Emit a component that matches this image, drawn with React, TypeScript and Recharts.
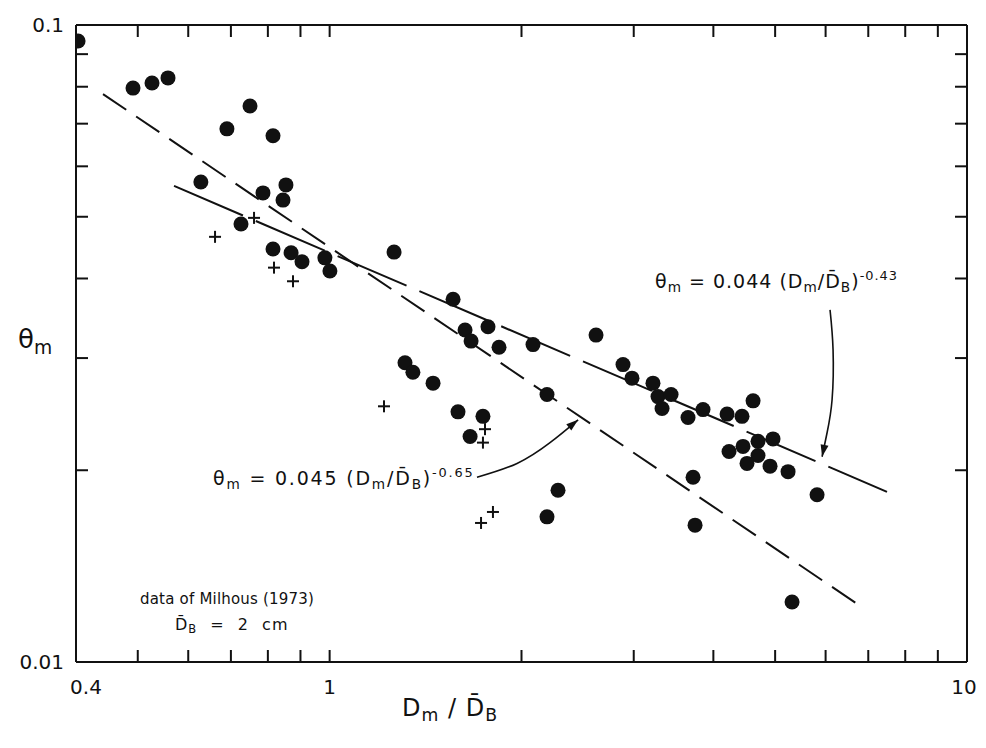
import React from 'react';
import { ScatterChart, Scatter, XAxis, YAxis } from 'recharts';

// filled circles (Dm/DB, theta_m)
const circleX = [
  0.403, 0.4915, 0.5264, 0.5577, 0.69, 0.75, 0.815, 0.628, 0.786, 0.854,
  0.845, 0.726, 0.815, 0.87, 0.905, 0.983, 1.001, 1.262, 1.562, 1.631,
  1.667, 1.772, 1.844, 2.085, 1.313, 1.351, 1.453, 2.193, 1.59, 1.74,
  1.661, 2.282, 2.193, 2.618, 2.886, 2.981, 3.216, 3.275, 3.433, 3.323,
  3.65, 3.853, 4.203, 4.436, 4.617, 4.233, 4.452, 4.7, 4.962, 4.7,
  4.517, 4.909, 5.239, 5.818, 3.717, 3.744, 5.315,
];
const circleY = [
  0.0944, 0.0796, 0.0811, 0.0826, 0.0687, 0.0746, 0.067, 0.0567, 0.0545, 0.0561,
  0.0531, 0.0487, 0.0445, 0.0439, 0.0425, 0.0431, 0.0411, 0.044, 0.0371, 0.0332,
  0.0319, 0.0336, 0.0312, 0.0315, 0.0295, 0.0285, 0.0274, 0.0263, 0.0247, 0.0243,
  0.0226, 0.0186, 0.0169, 0.0326, 0.0293, 0.0279, 0.0274, 0.0261, 0.0263, 0.025,
  0.0242, 0.0249, 0.0245, 0.0243, 0.0257, 0.0214, 0.0218, 0.0222, 0.0224, 0.0211,
  0.0205, 0.0203, 0.0199, 0.0183, 0.0195, 0.0164, 0.01242,
];

// plus markers
const plusX = [0.661, 0.761, 0.818, 0.876, 1.217, 1.753, 1.74, 1.728, 1.804];
const plusY = [0.0465, 0.0498, 0.0416, 0.0396, 0.0252, 0.0232, 0.0221, 0.01653, 0.0172];

// fitted lines, end points
const steepX = [0.441, 6.87];
const steepY = [0.0779, 0.01216];
const flatX = [0.57, 7.49];
const flatY = [0.0559, 0.0185];

// annotation arrows
const arrowLeftX = [1.703, 1.968, 2.217, 2.454];
const arrowLeftY = [0.0195, 0.0205, 0.0221, 0.024];
const arrowRightX = [6.097, 6.164, 6.142, 6.032, 5.924];
const arrowRightY = [0.0357, 0.0309, 0.0258, 0.0229, 0.021];

const xTicks = [0.4, 0.5, 0.6, 0.7, 0.8, 0.9, 1, 2, 3, 4, 5, 6, 7, 8, 9, 10];
const yTicks = [0.01, 0.02, 0.03, 0.04, 0.05, 0.06, 0.07, 0.08, 0.09, 0.1];
const xLabeled = [0.4, 1, 10];
const yLabeled = [0.01, 0.1];

const zip = (xs: number[], ys: number[]) => xs.map((x, i) => ({ x, y: ys[i] }));

const circles = zip(circleX, circleY);
const pluses = zip(plusX, plusY);
const steepLine = zip(steepX, steepY);
const flatLine = zip(flatX, flatY);
const arrowLeft = zip(arrowLeftX, arrowLeftY);
const arrowRight = zip(arrowRightX, arrowRightY);

const FONT = '"DejaVu Sans", sans-serif';
const INK = '#111';

const DotShape = (p: any) => <circle cx={p.cx} cy={p.cy} r={7.5} fill={INK} />;

const PlusShape = (p: any) => (
  <g stroke={INK} strokeWidth={2}>
    <line x1={p.cx - 6} y1={p.cy} x2={p.cx + 6} y2={p.cy} />
    <line x1={p.cx} y1={p.cy - 6} x2={p.cx} y2={p.cy + 6} />
  </g>
);

const NoShape = () => <g />;

const arrowHead = (angle: number) => (p: any) => (
  <polygon
    points={`${p.cx},${p.cy} ${p.cx - 12},${p.cy - 4} ${p.cx - 12},${p.cy + 4}`}
    fill={INK}
    transform={`rotate(${angle} ${p.cx} ${p.cy})`}
  />
);

const BottomTick = (p: any) => {
  const v = p.payload.value;
  const show = xLabeled.includes(v);
  const dx = v === 0.4 ? 10 : v === 10 ? -3 : 0;
  return (
    <g>
      <line x1={p.x} y1={p.y} x2={p.x} y2={p.y - 12} stroke={INK} strokeWidth={2} />
      {show && (
        <text x={p.x + dx} y={p.y + 32} textAnchor="middle" fontSize={20} fontFamily={FONT} fill={INK}>
          {String(v)}
        </text>
      )}
    </g>
  );
};

const TopTick = (p: any) => (
  <line x1={p.x} y1={p.y} x2={p.x} y2={p.y + 12} stroke={INK} strokeWidth={2} />
);

const LeftTick = (p: any) => {
  const v = p.payload.value;
  const show = yLabeled.includes(v);
  return (
    <g>
      <line x1={p.x} y1={p.y} x2={p.x + 12} y2={p.y} stroke={INK} strokeWidth={2} />
      {show && (
        <text x={p.x - 12} y={p.y + 7} textAnchor="end" fontSize={20} fontFamily={FONT} fill={INK}>
          {String(v)}
        </text>
      )}
    </g>
  );
};

const RightTick = (p: any) => (
  <line x1={p.x} y1={p.y} x2={p.x - 12} y2={p.y} stroke={INK} strokeWidth={2} />
);

const sub = { fontSize: '0.72em', verticalAlign: '-0.3em' } as const;
const sup = { fontSize: '0.68em', verticalAlign: '0.6em' } as const;

const Equation = ({ coef, exp }: { coef: string; exp: string }) => (
  <span>
    θ<span style={sub}>m</span> = {coef} (D<span style={sub}>m</span>/D&#772;<span style={sub}>B</span>)
    <span style={sup}>{exp}</span>
  </span>
);

const abs = (left: number, top: number, extra: React.CSSProperties = {}): React.CSSProperties => ({
  position: 'absolute',
  left,
  top,
  fontFamily: FONT,
  color: INK,
  whiteSpace: 'pre',
  lineHeight: 1,
  ...extra,
});

const App = () => {
  const axisLine = { stroke: INK, strokeWidth: 2 };
  return (
    <div style={{ position: 'relative', width: 978, height: 732, background: '#fff' }}>
      <ScatterChart width={978} height={732} margin={{ top: 16, right: 18, bottom: 48, left: 8 }}>
        <XAxis
          xAxisId="b"
          dataKey="x"
          type="number"
          scale="log"
          domain={[0.4, 10]}
          ticks={xTicks}
          interval={0}
          allowDataOverflow
          height={30}
          tickSize={0}
          tickMargin={0}
          axisLine={axisLine}
          tick={<BottomTick />}
        />
        <XAxis
          xAxisId="t"
          orientation="top"
          dataKey="x"
          type="number"
          scale="log"
          domain={[0.4, 10]}
          ticks={xTicks}
          interval={0}
          allowDataOverflow
          height={1}
          tickSize={0}
          tickMargin={0}
          axisLine={axisLine}
          tick={<TopTick />}
        />
        <YAxis
          yAxisId="l"
          dataKey="y"
          type="number"
          scale="log"
          domain={[0.01, 0.1]}
          ticks={yTicks}
          interval={0}
          allowDataOverflow
          width={60}
          tickSize={0}
          tickMargin={0}
          axisLine={axisLine}
          tick={<LeftTick />}
        />
        <YAxis
          yAxisId="r"
          orientation="right"
          dataKey="y"
          type="number"
          scale="log"
          domain={[0.01, 0.1]}
          ticks={yTicks}
          interval={0}
          allowDataOverflow
          width={1}
          tickSize={0}
          tickMargin={0}
          axisLine={axisLine}
          tick={<RightTick />}
        />
        <Scatter
          xAxisId="b"
          yAxisId="l"
          data={steepLine}
          line={{ stroke: INK, strokeWidth: 2, strokeDasharray: '28 12' }}
          shape={NoShape}
          isAnimationActive={false}
        />
        <Scatter
          xAxisId="b"
          yAxisId="l"
          data={flatLine}
          line={{ stroke: INK, strokeWidth: 2, strokeDasharray: '75 14' }}
          shape={NoShape}
          isAnimationActive={false}
        />
        <Scatter
          xAxisId="b"
          yAxisId="l"
          data={arrowLeft}
          line={{ stroke: INK, strokeWidth: 1.6 }}
          lineJointType="natural"
          shape={NoShape}
          isAnimationActive={false}
        />
        <Scatter
          xAxisId="b"
          yAxisId="l"
          data={arrowRight}
          line={{ stroke: INK, strokeWidth: 1.6 }}
          lineJointType="natural"
          shape={NoShape}
          isAnimationActive={false}
        />
        <Scatter
          xAxisId="b"
          yAxisId="l"
          data={[arrowLeft[arrowLeft.length - 1]]}
          shape={arrowHead(-39)}
          isAnimationActive={false}
        />
        <Scatter
          xAxisId="b"
          yAxisId="l"
          data={[arrowRight[arrowRight.length - 1]]}
          shape={arrowHead(102)}
          isAnimationActive={false}
        />
        <Scatter xAxisId="b" yAxisId="l" data={circles} shape={DotShape} isAnimationActive={false} />
        <Scatter xAxisId="b" yAxisId="l" data={pluses} shape={PlusShape} isAnimationActive={false} />
      </ScatterChart>

      {/* axis titles */}
      <div style={abs(10, 318, { fontSize: 26 })}>
        θ<span style={sub}>m</span>
      </div>
      <div style={abs(394, 688, { fontSize: 24, letterSpacing: 1 })}>
        D<span style={sub}>m</span> / D&#772;<span style={sub}>B</span>
      </div>

      {/* fit equations */}
      <div style={abs(647, 262, { fontSize: 19, letterSpacing: 1 })}>
        <Equation coef="0.044" exp="-0.43" />
      </div>
      <div style={abs(205, 459, { fontSize: 19, letterSpacing: 1.8 })}>
        <Equation coef="0.045" exp="-0.65" />
      </div>

      {/* data source */}
      <div style={abs(132, 584, { fontSize: 15, letterSpacing: 0.2 })}>data of Milhous (1973)</div>
      <div style={abs(167, 609, { fontSize: 16, letterSpacing: 1, wordSpacing: 7 })}>
        D&#772;<span style={sub}>B</span> = 2 cm
      </div>
    </div>
  );
};

export default App;
